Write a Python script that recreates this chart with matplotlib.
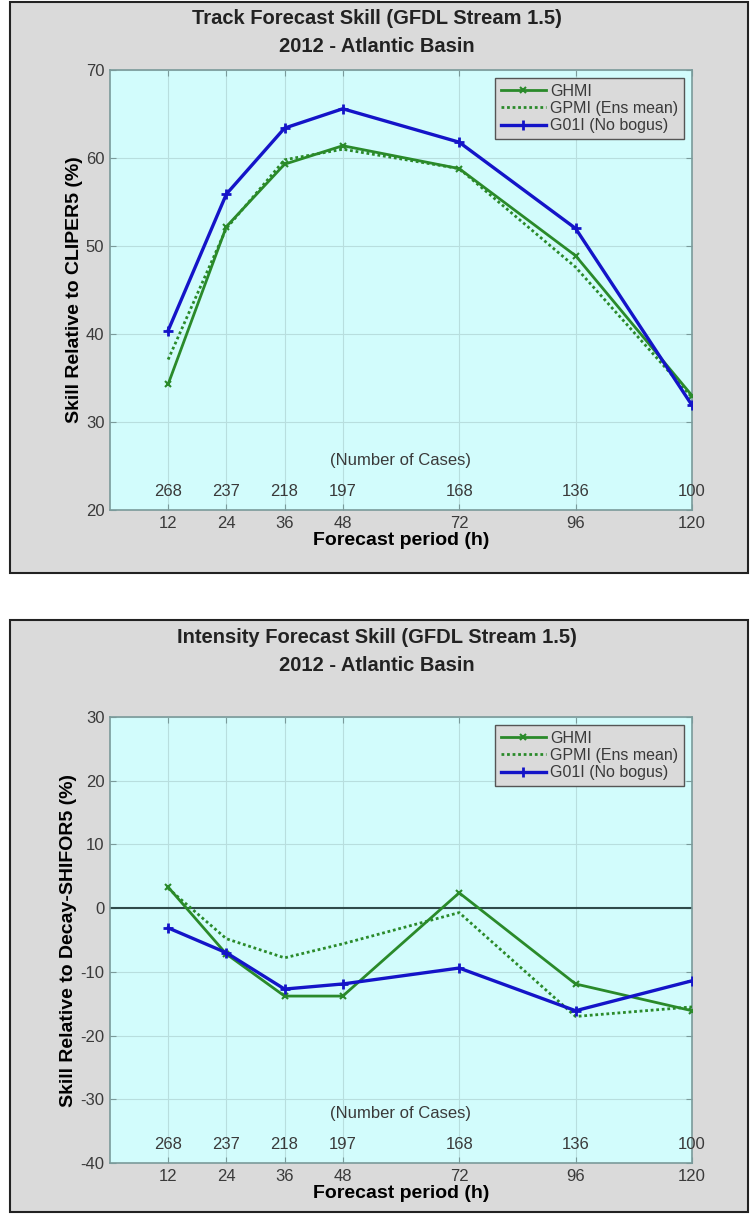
import matplotlib
matplotlib.use("Agg")
import matplotlib.pyplot as plt
from matplotlib.patches import Rectangle

plt.rcParams['font.family'] = ['Liberation Sans', 'DejaVu Sans']
plt.rcParams['axes.unicode_minus'] = False

# forecast hours and number of verifying cases
hours = [12, 24, 36, 48, 72, 96, 120]
cases = [268, 237, 218, 197, 168, 136, 100]

# track skill relative to CLIPER5 (%)
track_ghmi = [34.3, 52.2, 59.3, 61.4, 58.8, 48.9, 33.0]
track_gpmi = [37.1, 52.0, 59.8, 61.0, 58.8, 47.6, 32.8]
track_g01i = [40.4, 55.9, 63.4, 65.6, 61.8, 52.0, 31.9]

# intensity skill relative to Decay-SHIFOR5 (%)
int_ghmi = [3.3, -7.2, -13.8, -13.8, 2.4, -11.9, -16.1]
int_gpmi = [3.1, -4.8, -7.8, -5.6, -0.7, -17.0, -15.5]
int_g01i = [-3.1, -7.0, -12.7, -11.9, -9.4, -16.1, -11.4]

green = '#2a8a2a'
blue = '#1414c8'
panel_gray = '#dadada'
ax_bg = '#d2fcfc'
text_gray = '#3a3a3a'

fig = plt.figure(figsize=(7.53, 12.14), dpi=100)

# gray panels with black frames, kept behind the axes
for (y0, y1) in [(0.528, 0.998), (0.0016, 0.489)]:
    fig.patches.append(Rectangle((0.0133, y0), 0.98, y1 - y0, transform=fig.transFigure,
                                 facecolor=panel_gray, edgecolor='#222222', linewidth=1.5,
                                 zorder=-10))


def draw_panel(ax, ghmi, gpmi, g01i, ylim, yticks, ylabel, zero_line=False):
    ax.set_facecolor(ax_bg)
    ax.plot(hours, ghmi, color=green, lw=2, marker='x', ms=4, mew=1.5, label='GHMI', zorder=3)
    ax.plot(hours, gpmi, color=green, lw=2, ls=(0, (1, 1)), label='GPMI (Ens mean)', zorder=3)
    ax.plot(hours, g01i, color=blue, lw=2.4, marker='+', ms=7, mew=2, label='G01I (No bogus)', zorder=4)
    if zero_line:
        ax.axhline(0, color='#2f4a4a', lw=1.5, zorder=2)
    ax.set_xlim(0, 120)
    ax.set_ylim(*ylim)
    ax.set_xticks(hours)
    ax.set_yticks(yticks)
    ax.grid(True, color='#b8dede', lw=0.8)
    ax.set_axisbelow(True)
    ax.tick_params(direction='in', top=True, right=True, length=4, color='#7a9a9a',
                   labelsize=12, labelcolor=text_gray, pad=4)
    for s in ax.spines.values():
        s.set_color('#7a9a9a')
        s.set_linewidth(1.2)
    ax.set_xlabel('Forecast period (h)', fontsize=14, fontweight='bold', labelpad=1)
    ax.set_ylabel(ylabel, fontsize=14, fontweight='bold', labelpad=2)
    for h, n in zip(hours, cases):
        ax.text(h, 0.025, str(n), transform=ax.get_xaxis_transform(), ha='center',
                va='bottom', fontsize=12, color=text_gray)
    ax.text(60, 0.095, '(Number of Cases)', transform=ax.get_xaxis_transform(),
            ha='center', va='bottom', fontsize=12, color=text_gray)
    leg = ax.legend(loc='upper right', fontsize=11.5, frameon=True, fancybox=False,
                    borderaxespad=0.5, handlelength=2.8, handletextpad=0.3,
                    labelspacing=0.15, borderpad=0.35)
    leg.get_frame().set_facecolor(panel_gray)
    leg.get_frame().set_edgecolor('#555555')
    leg.get_frame().set_alpha(1)
    for t in leg.get_texts():
        t.set_color(text_gray)


ax1 = fig.add_axes([0.146, 0.5799, 0.773, 0.3624])
draw_panel(ax1, track_ghmi, track_gpmi, track_g01i, (20, 70), range(20, 71, 10),
           'Skill Relative to CLIPER5 (%)')
fig.text(0.5, 0.985, 'Track Forecast Skill (GFDL Stream 1.5)', ha='center', va='center',
         fontsize=14.5, fontweight='bold', color='#222222')
fig.text(0.5, 0.962, '2012 - Atlantic Basin', ha='center', va='center',
         fontsize=14.5, fontweight='bold', color='#222222')

ax2 = fig.add_axes([0.146, 0.0420, 0.773, 0.3674])
draw_panel(ax2, int_ghmi, int_gpmi, int_g01i, (-40, 30), range(-40, 31, 10),
           'Skill Relative to Decay-SHIFOR5 (%)', zero_line=True)
fig.text(0.5, 0.475, 'Intensity Forecast Skill (GFDL Stream 1.5)', ha='center', va='center',
         fontsize=14.5, fontweight='bold', color='#222222')
fig.text(0.5, 0.452, '2012 - Atlantic Basin', ha='center', va='center',
         fontsize=14.5, fontweight='bold', color='#222222')

fig.savefig('out.png', dpi=100, facecolor='white')
